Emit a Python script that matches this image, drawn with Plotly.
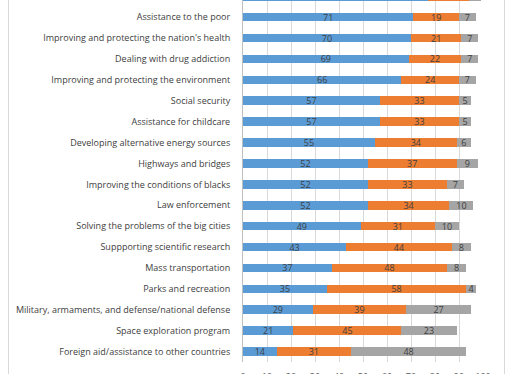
import plotly.graph_objects as go

categories = [
    "Improving the nation's education system",
    "Assistance to the poor",
    "Improving and protecting the nation's health",
    "Dealing with drug addiction",
    "Improving and protecting the environment",
    "Social security",
    "Assistance for childcare",
    "Developing alternative energy sources",
    "Highways and bridges",
    "Improving the conditions of blacks",
    "Law enforcement",
    "Solving the problems of the big cities",
    "Suppporting scientific research",
    "Mass transportation",
    "Parks and recreation",
    "Military, armaments, and defense/national defense",
    "Space exploration program",
    "Foreign aid/assistance to other countries",
]
too_little = [77, 71, 70, 69, 66, 57, 57, 55, 52, 52, 52, 49, 43, 37, 35, 29, 21, 14]
about_right = [17, 19, 21, 22, 24, 33, 33, 34, 37, 33, 34, 31, 44, 48, 58, 39, 45, 31]
too_much = [5, 7, 7, 7, 7, 5, 5, 6, 9, 7, 10, 10, 8, 8, 4, 27, 23, 48]
x_ticks = list(range(0, 101, 10))

# bottom-up order
cats = categories[::-1]
s1 = too_little[::-1]
s2 = about_right[::-1]
s3 = too_much[::-1]
ypos = list(range(len(cats)))

FONT = "Open Sans"
LBL = "#404040"
colors = ["#5B9BD5", "#ED7D31", "#A5A5A5"]
names = ["Too little", "About right", "Too much"]

fig = go.Figure()
for vals, col, nm in zip([s1, s2, s3], colors, names):
    fig.add_trace(go.Bar(
        y=ypos, x=vals, orientation="h", name=nm,
        marker=dict(color=col, line=dict(width=0)),
        text=[str(v) for v in vals], textposition="inside",
        insidetextanchor="middle", textangle=0, constraintext="none",
        textfont=dict(family=FONT, size=9, color=LBL),
        cliponaxis=True,
    ))

W, H = 513, 374
L, R = 243, 483
T, B = 0, 362
fig.update_layout(
    width=W, height=H, barmode="stack", bargap=0.59,
    margin=dict(l=L, r=W - R, t=T, b=H - B, pad=0),
    paper_bgcolor="white", plot_bgcolor="white",
    showlegend=False,
    uniformtext=dict(minsize=9, mode="show"),
    font=dict(family=FONT, size=9, color=LBL),
)
fig.update_xaxes(
    range=[0, 100], tickvals=x_ticks, ticktext=[str(v) for v in x_ticks],
    showgrid=True, gridcolor="#D9D9D9", gridwidth=1, zeroline=False,
    showline=False, ticks="", automargin=False, ticklabelstandoff=8,
    tickfont=dict(family=FONT, size=9, color="#595959"),
)
fig.update_yaxes(
    range=[-0.5, -0.5 + (B - T) / 20.9], tickvals=ypos, ticktext=cats,
    showgrid=False, zeroline=False, showline=True, linecolor="#BFBFBF",
    linewidth=1, ticks="", ticklabelstandoff=10, automargin=False,
    tickfont=dict(family=FONT, size=9, color="#404040"),
)
# chart border (Excel chart area outline)
pw = R - L
for px in [8.5, 504.5]:
    xp = (px - L) / pw
    fig.add_shape(type="line", xref="paper", yref="paper", x0=xp, x1=xp,
                  y0=-0.5, y1=1.5, line=dict(color="#D9D9D9", width=1))

fig.write_html(
    "out.html",
    config={"displayModeBar": False},
    post_script="document.body.style.margin='0';document.body.style.overflow='hidden';",
)
